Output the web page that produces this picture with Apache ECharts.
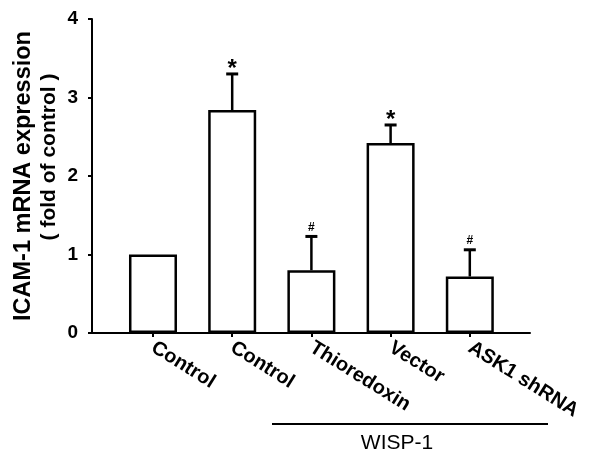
<!DOCTYPE html>
<html>
<head>
<meta charset="utf-8">
<script src="https://cdn.jsdelivr.net/npm/echarts@6/dist/echarts.min.js"></script>
<style>html,body{margin:0;padding:0;background:#fff}#c{width:598px;height:456px}</style>
</head>
<body>
<div id="c"></div>
<script>
const categories = ['Control', 'Control', 'Thioredoxin', 'Vector', 'ASK1 shRNA'];
const positions = [1, 2, 3, 4, 5];
const values = [1.0, 2.84, 0.80, 2.42, 0.72];
const errors = [0, 0.46, 0.43, 0.23, 0.34];
const sigMarks = ['', '*', '#', '*', '#'];
const yTicks = [0, 1, 2, 3, 4];
const yTitle = 'ICAM-1 mRNA expression';
const yTitle2 = '( fold of control )';
const groupLabel = 'WISP-1';

const FONT = '"Liberation Sans", Arial, sans-serif';
const chart = echarts.init(document.getElementById('c'), null, {renderer: 'canvas'});

const barData = positions.map((p, i) => [p, values[i]]);
const errData = positions.map((p, i) => [p, values[i], errors[i], i]);

chart.setOption({
  backgroundColor: '#fff',
  animation: false,
  grid: {left: 92, top: 19, right: 68, bottom: 123},
  xAxis: {
    type: 'value', min: 0.23, max: 5.76,
    axisLine: {show: true, lineStyle: {color: '#000', width: 2}},
    axisTick: {show: true, customValues: positions, length: 4, lineStyle: {color: '#000', width: 2}},
    axisLabel: {
      customValues: positions, rotate: -32, margin: 13,
      fontFamily: FONT, fontWeight: 'bold', fontSize: 20, color: '#000',
      formatter: v => categories[Math.round(v) - 1] || ''
    },
    splitLine: {show: false}
  },
  yAxis: {
    type: 'value', min: 0, max: 4, interval: 1,
    name: yTitle, nameLocation: 'middle', nameGap: 56,
    nameTextStyle: {fontFamily: FONT, fontWeight: 'bold', fontSize: 23.5, color: '#000'},
    axisLine: {show: true, lineStyle: {color: '#000', width: 2}},
    axisTick: {show: true, length: 4, lineStyle: {color: '#000', width: 2}},
    axisLabel: {
      margin: 14, fontFamily: FONT, fontWeight: 'bold', fontSize: 19, color: '#000',
      formatter: v => yTicks.includes(v) ? String(v) : ''
    },
    splitLine: {show: false}
  },
  graphic: [
    {type: 'text', x: 49, y: 157, rotation: Math.PI / 2,
     style: {text: yTitle2, fontFamily: FONT, fontWeight: 'bold', fontSize: 21, fill: '#000',
             align: 'center', verticalAlign: 'middle'}},
    {type: 'line', shape: {x1: 272, y1: 424, x2: 548, y2: 424}, style: {stroke: '#000', lineWidth: 2}},
    {type: 'text', x: 397, y: 443,
     style: {text: groupLabel, fontFamily: FONT, fontSize: 21, fill: '#000',
             align: 'center', verticalAlign: 'middle'}}
  ],
  series: [
    {
      type: 'bar', data: barData, barWidth: 48,
      itemStyle: {color: '#fff', borderColor: '#000', borderWidth: 2.5},
      z: 2
    },
    {
      type: 'custom', data: errData, z: 3,
      renderItem: function (params, api) {
        const x = api.value(0), v = api.value(1), e = api.value(2);
        const idx = api.value(3);
        const children = [];
        const p0 = api.coord([x, v]);
        const p1 = api.coord([x, v + e]);
        if (e > 0) {
          children.push({type: 'line', shape: {x1: p0[0], y1: p0[1], x2: p1[0], y2: p1[1]},
                         style: {stroke: '#000', lineWidth: 2.5}});
          children.push({type: 'line', shape: {x1: p1[0] - 6, y1: p1[1], x2: p1[0] + 6, y2: p1[1]},
                         style: {stroke: '#000', lineWidth: 3}});
        }
        const s = sigMarks[idx];
        if (s === '*') {
          children.push({type: 'text', x: p1[0], y: p1[1] - 5,
            style: {text: s, fontFamily: FONT, fontWeight: 'bold', fontSize: 24, fill: '#000',
                    align: 'center', verticalAlign: 'middle'}});
        } else if (s === '#') {
          children.push({type: 'text', x: p1[0], y: p1[1] - 9,
            style: {text: s, fontFamily: FONT, fontWeight: 'bold', fontSize: 12, fill: '#000',
                    align: 'center', verticalAlign: 'middle'}});
        }
        return {type: 'group', children: children};
      }
    }
  ]
});
</script>
</body>
</html>
